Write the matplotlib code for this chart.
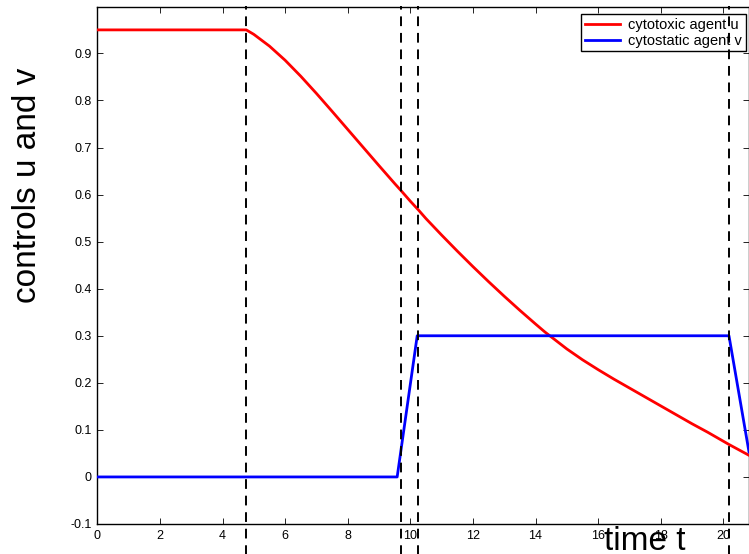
import matplotlib
matplotlib.use("Agg")
import matplotlib.pyplot as plt

plt.rcParams['font.family'] = ['Liberation Sans', 'DejaVu Sans']

# cytotoxic agent u (red)
t_u = [0.0, 4.76, 5.0, 5.5, 6.0, 6.5, 7.0, 7.5, 8.0, 8.5, 9.0, 9.5, 9.71, 10.0, 10.25,
       10.5, 11.0, 11.5, 12.0, 12.5, 13.0, 13.5, 14.0, 14.3, 15.0, 15.5, 16.0, 16.5,
       17.0, 17.5, 18.0, 18.5, 19.0, 19.5, 20.18, 20.82]
u = [0.95, 0.95, 0.9405, 0.9155, 0.8855, 0.8515, 0.815, 0.777, 0.7385, 0.700, 0.6615,
     0.6235, 0.608, 0.586, 0.568, 0.549, 0.514, 0.480, 0.447, 0.415, 0.384, 0.354, 0.325,
     0.308, 0.272, 0.249, 0.228, 0.208, 0.189, 0.170, 0.151, 0.132, 0.113, 0.095, 0.069, 0.046]

# cytostatic agent v (blue)
t_v = [0.0, 9.58, 10.22, 20.18, 20.82]
v = [0.0, 0.0, 0.30, 0.30, 0.053]

# switching times (dashed lines)
switch_times = [4.76, 9.71, 10.25, 20.18]

xticks = [0, 2, 4, 6, 8, 10, 12, 14, 16, 18, 20]
yticks = [-0.1, 0, 0.1, 0.2, 0.3, 0.4, 0.5, 0.6, 0.7, 0.8, 0.9]
ytick_labels = ['-0.1', '0', '0.1', '0.2', '0.3', '0.4', '0.5', '0.6', '0.7', '0.8', '0.9']

fig = plt.figure(figsize=(7.49, 5.54), dpi=100)
ax = fig.add_axes([97.3 / 749, (554 - 524.0) / 554, (749 - 97.3) / 749, (524.0 - 7.3) / 554])

ax.plot(t_u, u, color='#ff0000', lw=2.0, label='cytotoxic agent u', zorder=3)
ax.plot(t_v, v, color='#0000ff', lw=2.0, label='cytostatic agent v', zorder=3)

for ts in switch_times:
    ax.plot([ts, ts], [-0.165, 1.0], color='black', lw=1.4, ls=(0, (5, 3.5)),
            clip_on=False, zorder=7)

ax.set_xlim(0, 20.82)
ax.set_ylim(-0.1, 0.998)
ax.set_xticks(xticks)
ax.set_xticklabels([str(x) for x in xticks])
ax.set_yticks(yticks)
ax.set_yticklabels(ytick_labels)
ax.tick_params(direction='in', length=4.5, width=0.6, top=True, right=True,
               labelsize=9, pad=4, colors='black')
for s in ax.spines.values():
    s.set_linewidth(1.0)
    s.set_color('black')

fig.text(28 / 749, (554 - 185) / 554, 'controls u and v', fontsize=24,
         rotation=90, ha='center', va='center')
fig.text(645 / 749, (554 - 549.5) / 554, 'time t', fontsize=24, ha='center', va='baseline')

leg = ax.legend(loc='upper left', bbox_to_anchor=(0.742, 0.987), borderaxespad=0,
                fontsize=10.5, frameon=True, fancybox=False, edgecolor='black',
                framealpha=1, handlelength=2.4, handletextpad=0.6,
                borderpad=0.25, labelspacing=0.15)
leg.get_frame().set_linewidth(1.0)
leg.set_zorder(5)

fig.savefig('out.png', dpi=100)
